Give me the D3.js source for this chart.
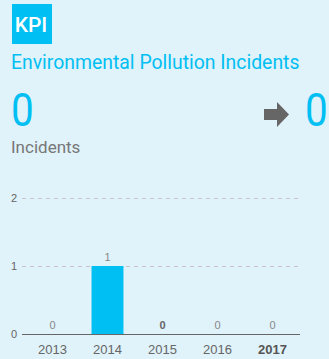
<!DOCTYPE html>
<html>
<head>
<meta charset="utf-8">
<script src="https://cdn.jsdelivr.net/npm/d3@7"></script>
<style>
  html, body { margin: 0; padding: 0; background: #e0f2fa; }
  svg { display: block; }
</style>
</head>
<body>
<svg id="kpi" width="329" height="359"></svg>
<script>
// Yearly incident counts
const years = ["2013", "2014", "2015", "2016", "2017"];
const incidents = [0, 1, 0, 0, 0];
const yTicks = [0, 1, 2];
const currentValue = 0;
const targetValue = 0;
const highlightYear = "2017";

const svg = d3.select("#kpi");
const blue = "#00bff3";
const headFont = "Roboto, 'Noto Sans', sans-serif";
const chartFont = "'Liberation Sans', Arial, sans-serif";

// Header badge
svg.append("rect").attr("x", 12).attr("y", 4).attr("width", 40).attr("height", 40).attr("fill", blue);
svg.append("text").attr("x", 31).attr("y", 32).attr("text-anchor", "middle")
  .attr("fill", "#fff").attr("font-family", headFont).attr("font-size", 21).attr("font-weight", 500)
  .text("KPI");

svg.append("text").attr("x", 11).attr("y", 69)
  .attr("fill", blue).attr("font-family", headFont).attr("font-size", 19.4)
  .text("Environmental Pollution Incidents");

// Current value and target
svg.append("g").attr("transform", "translate(11,126) scale(0.88,1)")
  .append("text")
  .attr("fill", blue).attr("font-family", headFont).attr("font-size", 46).attr("font-weight", 400)
  .text(currentValue);
svg.append("g").attr("transform", "translate(305,126) scale(0.88,1)")
  .append("text")
  .attr("fill", blue).attr("font-family", headFont).attr("font-size", 46).attr("font-weight", 400)
  .text(targetValue);
svg.append("path")
  .attr("d", "M264,109 L277,109 L277,102 L289,114.5 L277,127 L277,120 L264,120 Z")
  .attr("fill", "#666");

svg.append("text").attr("x", 11).attr("y", 153)
  .attr("fill", "#777").attr("font-family", headFont).attr("font-size", 17)
  .text("Incidents");

// Bar chart
const x = d3.scaleBand().domain(years).range([25, 300]).paddingInner(0.42).paddingOuter(0.21);
const y = d3.scaleLinear().domain([0, 2]).range([334, 198]);

const grid = svg.append("g");
grid.selectAll("line").data(yTicks.filter(d => d > 0)).join("line")
  .attr("x1", 22).attr("x2", 300)
  .attr("y1", d => y(d) + 0.5).attr("y2", d => y(d) + 0.5)
  .attr("stroke", "#c8c3cc").attr("stroke-dasharray", "4,4");

svg.append("g").selectAll("text").data(yTicks).join("text")
  .attr("x", 17).attr("y", d => y(d) + 4).attr("text-anchor", "end")
  .attr("fill", "#666").attr("font-family", chartFont).attr("font-size", 11)
  .text(d => d);

svg.append("g").selectAll("rect").data(years).join("rect")
  .attr("x", d => x(d)).attr("width", x.bandwidth())
  .attr("y", (d, i) => y(incidents[i])).attr("height", (d, i) => y(0) - y(incidents[i]))
  .attr("fill", blue);

svg.append("g").selectAll("text").data(years).join("text")
  .attr("x", d => x(d) + x.bandwidth() / 2)
  .attr("y", (d, i) => y(incidents[i]) - 5)
  .attr("text-anchor", "middle")
  .attr("fill", (d, i) => i === 2 ? "#666" : "#888")
  .attr("font-weight", (d, i) => i === 2 ? "bold" : "normal")
  .attr("font-family", chartFont).attr("font-size", 11)
  .text((d, i) => incidents[i]);

const xAxis = svg.append("g").attr("transform", `translate(0,${y(0)})`)
  .call(d3.axisBottom(x).tickSize(0).tickPadding(11));
xAxis.select(".domain").attr("d", "M22,0.5H300").attr("stroke", "#666").attr("stroke-width", 1);
xAxis.selectAll("text")
  .attr("font-family", chartFont).attr("font-size", 13)
  .attr("fill", d => d === highlightYear ? "#555" : "#666")
  .attr("font-weight", d => d === highlightYear ? "bold" : "normal");
</script>
</body>
</html>
